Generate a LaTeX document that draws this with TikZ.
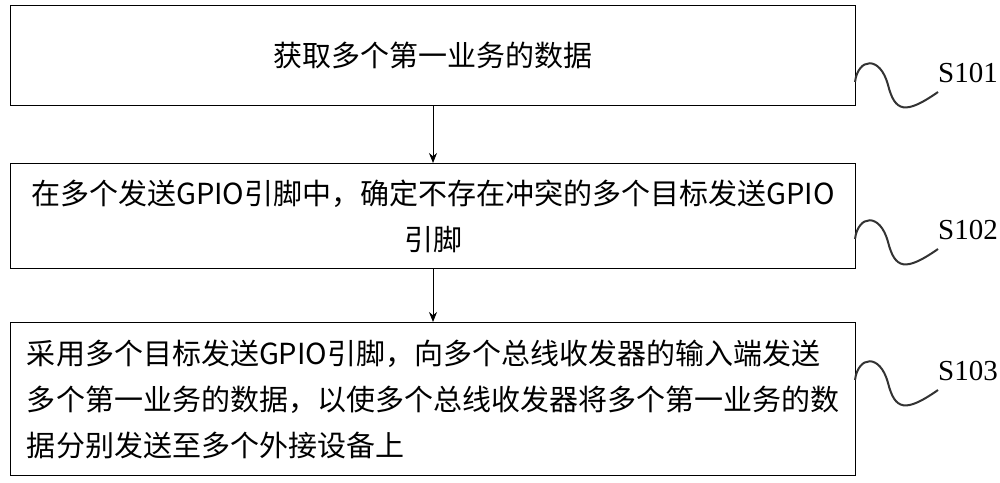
\documentclass[tikz,border=0pt]{standalone}
\usepackage{fontspec}
\setmainfont{Liberation Serif}
\newfontfamily\cjk{Noto Sans CJK SC}
\usetikzlibrary{arrows.meta}
\begin{document}
\begin{tikzpicture}[x=1pt,y=-1pt,
  box/.style={draw,line width=1pt,minimum width=845pt,anchor=north west,inner sep=0pt,align=center,font=\cjk\fontsize{29}{46}\selectfont},
  wave/.style={line width=2pt,draw=black!80},
  lab/.style={font=\fontsize{29}{30}\selectfont}]
\useasboundingbox (0,0) rectangle (1000,482);
\node[box,minimum height=100pt] (b1) at (10,5) {获取多个第一业务的数据};
\node[box,minimum height=105pt] (b2) at (10,163) {在多个发送GPIO引脚中，确定不存在冲突的多个目标发送GPIO\\引脚};
\node[box,minimum height=153pt,align=left] (b3) at (10,322) {采用多个目标发送GPIO引脚，向多个总线收发器的输入端发送\\多个第一业务的数据，以使多个总线收发器将多个第一业务的数\\据分别发送至多个外接设备上};
\draw[-{Stealth[length=10pt,width=8pt]},line width=0.9pt] (b1.south) -- (b2.north);
\draw[-{Stealth[length=10pt,width=8pt]},line width=0.9pt] (b2.south) -- (b3.north);
\foreach \n/\y/\t in {b1/0/S101,b2/157/S102,b3/298/S103}{
  \coordinate (w\n) at (855,82+\y);
  \draw[wave] (w\n) .. controls (858,58+\y) and (880,55+\y) .. (888,85+\y) .. controls (895,112+\y) and (905,115+\y) .. (938,92+\y);
  \node[lab] (l\n) at (968,73+\y) {\t};
}
\end{tikzpicture}
\end{document}
